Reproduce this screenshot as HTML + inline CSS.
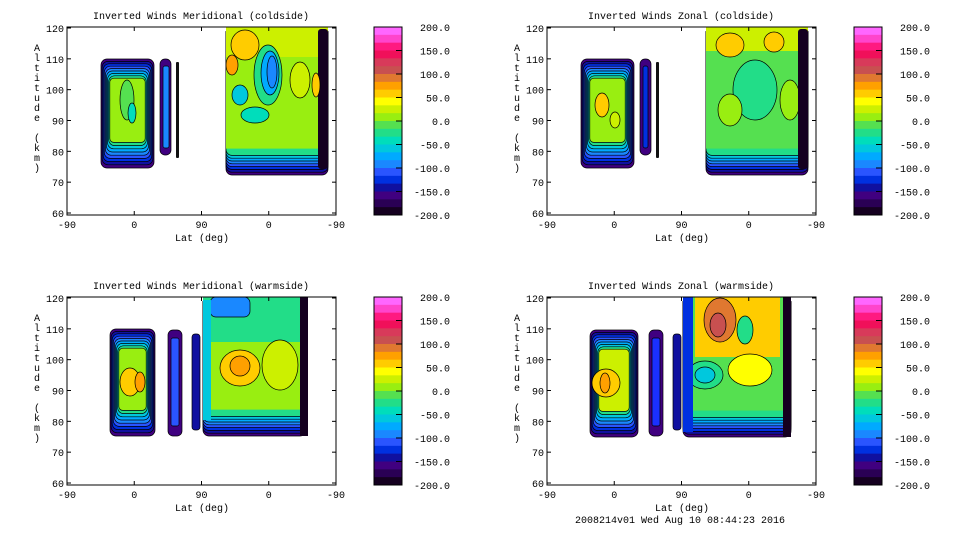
<!DOCTYPE html>
<html><head><meta charset="utf-8"><style>
html,body{margin:0;padding:0;background:#fff;width:960px;height:540px;overflow:hidden}
svg text{font-family:"Liberation Mono","DejaVu Sans Mono",monospace;font-size:10px;fill:#000}
</style></head><body>
<svg id="s" width="960" height="540" xmlns="http://www.w3.org/2000/svg"></svg>
<script>
const S=document.getElementById('s');let h='';
const cb=['#ff66ff','#ff44cc','#ff1a80','#f0105a','#d83a5a','#c85050','#e07830','#ffa000','#ffcc00','#ffff00','#ccf000','#99ee11','#55e050','#22dd88','#00ddbb','#00c8dd','#00aaff','#1a88ff','#2a55ff','#0030e0','#1010a0','#400080','#2a0055','#150020'];
function R(x,y,w,hh,f,rx,st){h+=`<rect x="${x}" y="${y}" width="${w}" height="${hh}" rx="${rx||0}" fill="${f}" ${st?'stroke="#000" stroke-width="0.7"':''}/>`}
function E(cx,cy,rx,ry,f){h+=`<ellipse cx="${cx}" cy="${cy}" rx="${rx}" ry="${ry}" fill="${f}" stroke="#000" stroke-width="0.7"/>`}
const edge=['#400080','#1010a0','#0030e0','#2a55ff','#1a88ff','#00aaff','#00c8dd','#22dd88'];
function blob(x,y,w,hh,inner,n){n=n||8;for(let i=0;i<n;i++){let dx=i*1.1,dy=i*2.4;R(x+dx,y+dy,w-2*dx,hh-2*dy-(i*0.8),edge[i],6,1)}R(x+n*1.1,y+n*2.4,w-n*2.2,hh-n*5.6,inner,4,1)}
function big(x,y,w,hh,inner){for(let i=0;i<8;i++){R(x,y,w,hh-i*2.8,edge[i],6,1)}R(x,y,w,hh-8*2.8-4,inner,0,0)}
function panel(ox,oy,title,bot){
 const x0=ox+67,x1=ox+336,y0=oy+27,y1=oy+215;
 h+=`<text x="${ox+201}" y="${oy+19}" text-anchor="middle">${title}</text>`;
 bot(ox,oy);
 h+=`<rect x="${x0}" y="${y0}" width="${x1-x0}" height="${y1-y0}" fill="none" stroke="#000" stroke-width="1"/>`;
 const yl=[120,110,100,90,80,70,60];
 yl.forEach((v,i)=>{let y=y0+1+i*(y1-y0-3)/6;h+=`<text x="${x0-3}" y="${y+4}" text-anchor="end">${v}</text><line x1="${x0}" x2="${x0+4}" y1="${y}" y2="${y}" stroke="#000"/><line x1="${x1}" x2="${x1-4}" y1="${y}" y2="${y}" stroke="#000"/>`});
 ['-90','0','90','0','-90'].forEach((v,i)=>{let x=x0+i*(x1-x0)/4;h+=`<text x="${x}" y="${y1+13}" text-anchor="middle">${v}</text><line x1="${x}" x2="${x}" y1="${y1}" y2="${y1-4}" stroke="#000"/><line x1="${x}" x2="${x}" y1="${y0}" y2="${y0+4}" stroke="#000"/>`});
 h+=`<text x="${ox+202}" y="${y1+26}" text-anchor="middle">Lat (deg)</text>`;
 'Altitude (km)'.split('').forEach((c,i)=>{h+=`<text x="${ox+37}" y="${oy+51+i*10}" text-anchor="middle">${c}</text>`});
 const cx=ox+374,n=cb.length,bh=188/n;
 cb.forEach((c,i)=>R(cx,y0+i*bh,28,bh+0.5,c));
 h+=`<rect x="${cx}" y="${y0}" width="28" height="188" fill="none" stroke="#000"/>`;
 ['200.0','150.0','100.0','50.0','0.0','-50.0','-100.0','-150.0','-200.0'].forEach((v,i)=>{let y=y0+i*188/8;h+=`<text x="${ox+450}" y="${y+4}" text-anchor="end">${v}</text>`;if(i>0&&i<8)h+=`<line x1="${cx+22}" x2="${cx+28}" y1="${y}" y2="${y}" stroke="#000"/>`});
}
panel(0,0,'Inverted Winds Meridional (coldside)',(ox,oy)=>{
 blob(101,59,53,109,'#99ee11');E(127,100,7,20,'#55e050');E(132,113,4,10,'#00ddbb');
 R(160,59,11,96,'#400080',5,1);R(163,66,6,82,'#1a88ff',2,1);
 R(176,62,3,96,'#111',1);
 big(226,27,102,148,'#99ee11');
 R(226,27,102,30,'#ccf000');E(245,45,14,15,'#ffcc00');E(232,65,6,10,'#ffa000');
 E(268,75,14,30,'#22dd88');E(270,73,9,22,'#00aaff');E(272,72,5,16,'#1a88ff');
 E(240,95,8,10,'#00c8dd');E(255,115,14,8,'#00ddbb');E(300,80,10,18,'#ccf000');
 R(318,29,10,140,'#150020',3);E(316,85,4,12,'#ffcc00');
});
panel(480,0,'Inverted Winds Zonal (coldside)',(ox,oy)=>{
 blob(581,59,53,109,'#99ee11');E(602,105,7,12,'#ffcc00');E(615,120,5,8,'#ccf000');
 R(640,59,11,96,'#400080',5,1);R(643,66,5,82,'#0030e0',2,1);
 R(656,62,3,96,'#111',1);
 big(706,27,102,148,'#55e050');
 R(706,27,102,24,'#ccf000');E(730,45,14,12,'#ffcc00');E(774,42,10,10,'#ffcc00');
 E(755,90,22,30,'#22dd88');E(730,110,12,16,'#99ee11');E(790,100,10,20,'#99ee11');
 R(798,29,10,140,'#150020',3);
});
panel(0,270,'Inverted Winds Meridional (warmside)',(ox,oy)=>{
 blob(110,329,45,107,'#99ee11');E(130,382,10,14,'#ffcc00');E(140,382,5,10,'#ffa000');
 R(168,330,14,106,'#400080',5,1);R(171,338,8,88,'#2a55ff',2,1);
 R(192,334,8,96,'#1010a0',3,1);
 big(203,297,103,139,'#99ee11');
 R(203,297,103,45,'#22dd88');R(210,297,40,20,'#1a88ff',6,1);E(240,368,20,18,'#ffcc00');E(240,366,10,10,'#ffa000');
 E(280,365,18,25,'#ccf000');R(300,297,8,139,'#150020',0);R(203,300,8,120,'#00c8dd',0);
});
panel(480,270,'Inverted Winds Zonal (warmside)',(ox,oy)=>{
 blob(590,330,48,107,'#ccf000');E(606,383,14,14,'#ffcc00');E(605,383,5,10,'#ffa000');
 R(649,330,14,106,'#400080',5,1);R(652,338,8,88,'#1a30ff',2,1);
 R(673,334,8,96,'#1010a0',3,1);
 big(683,297,108,140,'#55e050');
 R(695,297,85,60,'#ffcc00');E(720,320,16,22,'#e07830');E(718,325,8,12,'#c85050');E(745,330,8,14,'#22dd88');
 E(705,375,18,14,'#22dd88');E(705,375,10,8,'#00c8dd');E(750,370,22,16,'#ffff00');
 R(683,297,10,135,'#0030e0',0);R(783,297,8,140,'#150020',0);
 h+=`<text x="680" y="523" text-anchor="middle">2008214v01 Wed Aug 10 08:44:23 2016</text>`;
});
S.innerHTML=h;
</script>
</body></html>
